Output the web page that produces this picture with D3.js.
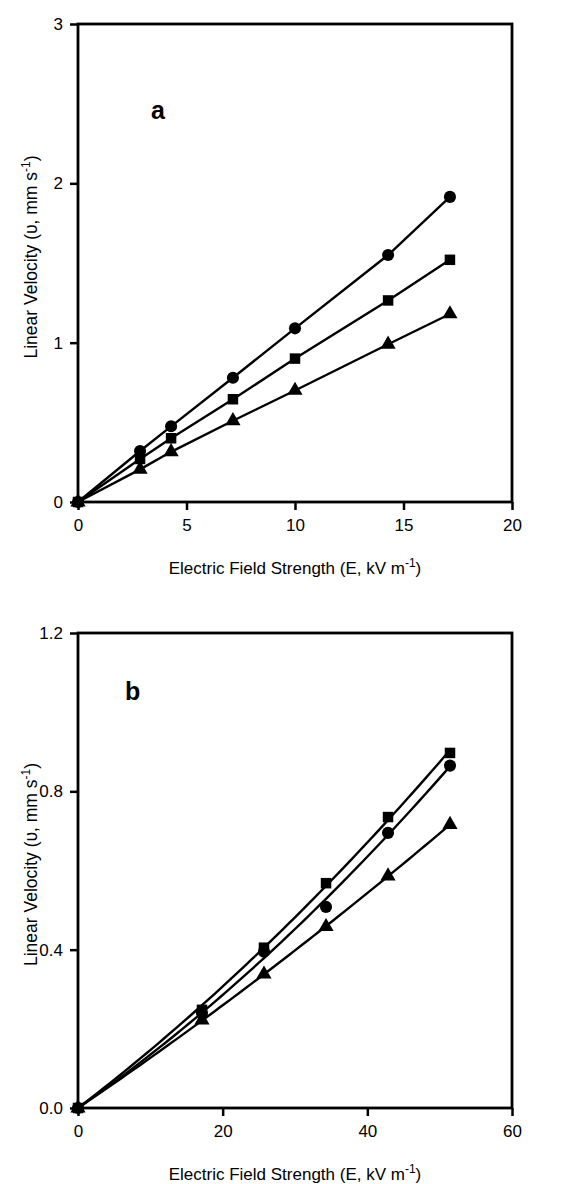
<!DOCTYPE html>
<html>
<head>
<meta charset="utf-8">
<script src="https://cdn.jsdelivr.net/npm/d3@7"></script>
<style>
body{margin:0;background:#fff;}
svg text{font-family:"Liberation Sans",Arial,sans-serif;}
</style>
</head>
<body>
<svg width="580" height="1184"></svg>
<script>
// panel a
var xA = [0, 2.86, 4.29, 7.14, 10, 14.29, 17.14];
var circA = [0, 0.32, 0.475, 0.78, 1.09, 1.55, 1.915];
var sqA = [0, 0.27, 0.40, 0.645, 0.90, 1.265, 1.52];
var triA = [0, 0.205, 0.315, 0.51, 0.70, 0.99, 1.18];
var xTicksA = [0, 5, 10, 15, 20];
var yTicksA = [0, 1, 2, 3];

// panel b
var xB = [0, 17.14, 25.71, 34.29, 42.86, 51.43];
var circB = [0, 0.24, 0.395, 0.508, 0.695, 0.865];
var sqB = [0, 0.248, 0.405, 0.568, 0.735, 0.897];
var triB = [0, 0.222, 0.338, 0.458, 0.586, 0.716];
var xTicksB = [0, 20, 40, 60];
var yTicksB = [0, 0.4, 0.8, 1.2];

var svg = d3.select('svg');
var margin = {left:78, right:68};

// least squares y = a x + b x^2 for the smooth lines in panel b
function fitQuad(xs, ys){
	var s11=0,s12=0,s22=0,t1=0,t2=0;
	for(var i=0;i<xs.length;i++){
		var x=xs[i], y=ys[i];
		s11+=x*x; s12+=x*x*x; s22+=x*x*x*x; t1+=x*y; t2+=x*x*y;
	}
	var det = s11*s22 - s12*s12;
	var a = (t1*s22 - t2*s12)/det, b = (s11*t2 - s12*t1)/det;
	return function(x){ return a*x + b*x*x; };
}

function symbolFor(name){
	if(name=='circle') return d3.symbol().type(d3.symbolCircle).size(115);
	if(name=='square') return d3.symbol().type(d3.symbolSquare).size(110);
	return d3.symbol().type(d3.symbolTriangle).size(100);
}

function panel(o){
	var g = svg.append('g');
	var x = d3.scaleLinear().domain(o.xdom).range([margin.left, 580-margin.right]);
	var y = d3.scaleLinear().domain(o.ydom).range([o.bottom, o.top]);

	var xaxis = g.append('g').attr('transform',`translate(0,${o.bottom})`)
		.call(d3.axisBottom(x).tickValues(o.xticks).tickSize(8).tickPadding(9).tickFormat(d3.format(o.xfmt)));
	var yaxis = g.append('g').attr('transform',`translate(${margin.left},0)`)
		.call(d3.axisLeft(y).tickValues(o.yticks).tickSize(8).tickPadding(7).tickFormat(d3.format(o.yfmt)));
	[xaxis,yaxis].forEach(function(a){
		a.select('.domain').remove();
		a.selectAll('line').attr('stroke','#000').attr('stroke-width',2.5);
		a.selectAll('text').attr('font-size',17).attr('fill','#000');
	});
	g.append('rect').attr('x',x.range()[0]).attr('y',o.top)
		.attr('width',x.range()[1]-x.range()[0]).attr('height',o.bottom-o.top)
		.attr('fill','none').attr('stroke','#000').attr('stroke-width',2.8);

	o.series.forEach(function(s){
		var pts;
		if(o.smooth){
			var f = fitQuad(o.xs, s.v);
			pts = d3.range(0, 61).map(function(i){ var xx = o.xs[o.xs.length-1]*i/60; return [xx, f(xx)]; });
		} else {
			pts = o.xs.map(function(d,i){ return [d, s.v[i]]; });
		}
		g.append('path').datum(pts)
			.attr('d', d3.line().x(d=>x(d[0])).y(d=>y(d[1])))
			.attr('fill','none').attr('stroke','#000').attr('stroke-width',2.4);
	});
	o.series.forEach(function(s){
		g.selectAll(null).data(o.xs.map(function(d,i){ return [d, s.v[i]]; }))
			.enter().append('path')
			.attr('transform', d=>`translate(${x(d[0])},${y(d[1])})`)
			.attr('d', symbolFor(s.shape))
			.attr('fill','#000');
	});

	g.append('text').attr('x',o.letter[0]).attr('y',o.letter[1])
		.attr('font-family','"Liberation Serif","Times New Roman",serif')
		.attr('font-weight','bold').attr('font-size',25).text(o.letterText);

	var xl = g.append('text').attr('x',(x.range()[0]+x.range()[1])/2).attr('y',o.bottom+72)
		.attr('text-anchor','middle').attr('font-size',17);
	xl.append('tspan').text('Electric Field Strength (E, kV m');
	xl.append('tspan').attr('dy',-7).attr('font-size',12).text('-1');
	xl.append('tspan').attr('dy',7).text(')');

	var cy = (o.top+o.bottom)/2 - 6;
	var yl = g.append('text').attr('transform',`translate(37,${cy}) rotate(-90)`)
		.attr('text-anchor','middle').attr('font-size',17.5);
	yl.append('tspan').text('Linear Velocity (\u03c5, mm s');
	yl.append('tspan').attr('dy',-7).attr('font-size',12).text('-1');
	yl.append('tspan').attr('dy',7).text(')');
}

panel({top:24, bottom:502, xdom:[0,20], ydom:[0,3], xticks:xTicksA, yticks:yTicksA,
	xfmt:'d', yfmt:'d', xs:xA, smooth:false,
	series:[{v:circA,shape:'circle'},{v:sqA,shape:'square'},{v:triA,shape:'triangle'}],
	letter:[151,119], letterText:'a'});

panel({top:633, bottom:1108, xdom:[0,60], ydom:[0,1.2], xticks:xTicksB, yticks:yTicksB,
	xfmt:'d', yfmt:'.1f', xs:xB, smooth:true,
	series:[{v:circB,shape:'circle'},{v:sqB,shape:'square'},{v:triB,shape:'triangle'}],
	letter:[125,700], letterText:'b'});
</script>
</body>
</html>
